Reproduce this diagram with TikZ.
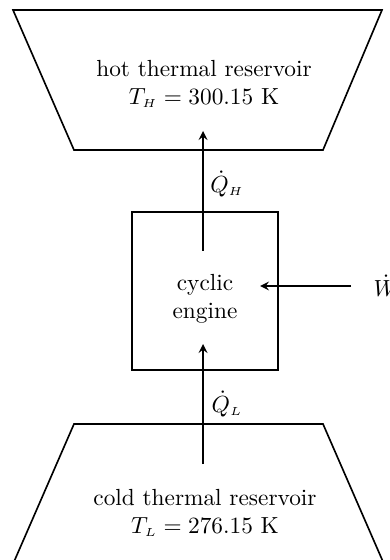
\documentclass[tikz,border=0pt]{standalone}
\usepackage{amsmath}
\usepackage{tikz}
\usetikzlibrary{positioning}

\begin{document}
\begin{tikzpicture}[x=0.429pt, y=-0.429pt, line width=0.7pt, >=stealth,
    every node/.style={font=\normalsize}]
    \useasboundingbox (0,0) rectangle (389,560);
    % reservoirs
    \draw (13,10) -- (382,10) -- (323,150) -- (74,150) -- cycle;
    \draw (74,424) -- (323,424) -- (384,564) -- (13,564) -- cycle;
    \node[align=center] (hot) at (204,84) {hot thermal reservoir\\ $T_{\scriptscriptstyle H} = 300.15$ K};
    \node[align=center] (cold) at (205,513) {cold thermal reservoir\\ $T_{\scriptscriptstyle L} = 276.15$ K};
    % engine
    \node[draw, inner sep=0pt, minimum width=62.6pt, minimum height=67.8pt] (eng) at (205,291) {};
    \node[align=center] (engtxt) at (205,299) {cyclic\\ engine};
    \coordinate (hotin) at (203,131);
    \coordinate (engtop) at (203,251);
    \coordinate (coldout) at (203,464);
    \coordinate (engbot) at (203,344);
    \coordinate (wsrc) at (351,286);
    \coordinate (engright) at (260,286);
    \draw[->] (engtop) -- (hotin);
    \draw[->] (coldout) -- (engbot);
    \draw[->] (wsrc) -- (engright);
    \node (QH) at (227,184) {$\dot{Q}_{\scriptscriptstyle H}$};
    \node (QL) at (227,404) {$\dot{Q}_{\scriptscriptstyle L}$};
    \node[right=6pt of wsrc] (W) {$\dot{W}$};
\end{tikzpicture}
\end{document}
